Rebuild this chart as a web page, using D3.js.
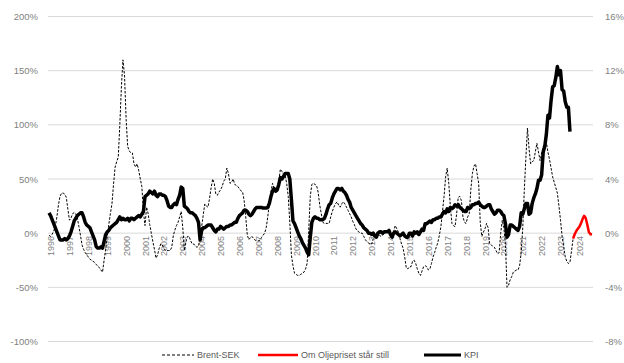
<!DOCTYPE html>
<html>
<head>
<meta charset="utf-8">
<script src="https://cdn.jsdelivr.net/npm/d3@7"></script>
<style>
  body { margin: 0; background: #fff; }
  text { font-family: "Liberation Sans", Arial, sans-serif; }
</style>
</head>
<body>
<svg id="chart"></svg>
<script>
// monthly values, Jan 1996 onwards
const years = d3.range(1996, 2025);

// KPI, yoy %, right axis (Jan 1996 - Aug 2023)
const kpi = [
  1.5, 1.3, 1.0, 0.7, 0.4, 0.1, -0.2, -0.5, -0.5, -0.5, -0.4, -0.5,
  -0.4, -0.2, 0.1, 0.5, 0.9, 1.1, 1.3, 1.4, 1.5, 1.5, 1.2, 0.8,
  0.6, 0.5, 0.4, 0.1, -0.2, -0.5, -1.0, -1.1, -1.1, -1.0, -1.1, -0.6,
  -0.1, 0.1, 0.2, 0.4, 0.5, 0.6, 0.7, 0.8, 1.0, 1.2, 1.0, 1.1,
  1.0, 1.0, 1.1, 0.9, 1.1, 1.1, 1.0, 1.1, 1.2, 1.3, 1.2, 1.4,
  1.6, 2.7, 2.8, 2.9, 3.1, 3.0, 2.9, 3.1, 2.8, 2.7, 2.9, 2.9,
  2.8, 2.8, 2.7, 2.4, 2.0, 1.9, 1.9, 2.1, 2.2, 2.1, 2.5, 2.8,
  3.4, 3.3, 2.0, 1.9, 1.8, 1.6, 1.5, 1.5, 1.4, 1.3, 1.1, 0.8,
  -0.5, 0.2, 0.4, 0.4, 0.5, 0.6, 0.6, 0.6, 0.4, 0.2, 0.1, 0.3,
  0.3, 0.5, 0.4, 0.3, 0.4, 0.5, 0.5, 0.6, 0.6, 0.7, 0.8, 0.8,
  1.1, 1.3, 1.4, 1.5, 1.7, 1.7, 1.6, 1.4, 1.3, 1.4, 1.6, 1.8,
  1.9, 1.9, 1.9, 1.9, 1.85, 1.85, 1.85, 1.9, 2.2, 2.7, 3.1, 3.3,
  3.1, 3.2, 3.6, 4.1, 4.0, 4.2, 4.4, 4.4, 4.4, 4.0, 2.5, 0.9,
  0.7, 0.4, 0.1, -0.2, -0.4, -0.7, -0.9, -1.1, -1.4, -1.6, -0.3, 0.8,
  1.1, 1.2, 1.1, 1.1, 1.0, 1.0, 1.0, 1.1, 1.4, 1.8, 2.1, 2.2,
  2.6, 2.9, 3.1, 3.3, 3.3, 3.2, 3.3, 3.1, 3.0, 2.8, 2.5, 2.3,
  1.9, 1.7, 1.5, 1.3, 1.1, 0.9, 0.7, 0.6, 0.4, 0.3, 0.2, 0.0,
  0.0, -0.1, 0.0, -0.2, -0.3, 0.0, 0.1, 0.1, 0.0, 0.1, 0.1, 0.1,
  0.2, -0.1, -0.3, 0.0, 0.1, 0.0, -0.1, -0.2, -0.1, 0.0, -0.2, -0.3,
  -0.3, 0.0, 0.0, -0.2, 0.1, 0.0, 0.1, -0.1, 0.1, 0.3, 0.2, 0.7,
  0.7, 0.8, 0.9, 0.8, 1.0, 1.0, 1.1, 1.1, 1.2, 1.2, 1.4, 1.6,
  1.5, 1.8, 1.6, 1.9, 1.8, 1.9, 2.1, 2.0, 2.1, 1.9, 1.8, 1.7,
  1.6, 1.6, 1.9, 1.8, 1.9, 2.1, 2.1, 2.2, 2.2, 2.3, 2.1, 2.0,
  1.9, 1.9, 2.0, 2.1, 2.1, 1.8, 1.6, 1.4, 1.5, 1.7, 1.7, 1.6,
  1.4, 1.3, 0.7, -0.3, -0.1, 0.6, 0.6, 0.5, 0.4, 0.3, 0.2, 0.5,
  1.5, 1.4, 1.8, 2.2, 2.2, 1.4, 1.5, 2.2, 2.6, 2.9, 3.3, 3.9,
  3.9, 4.3, 6.0, 6.4, 7.3, 8.7, 8.5, 9.8, 10.8, 10.9, 11.5, 12.3,
  11.7, 12.0, 10.6, 10.5, 9.7, 9.3, 9.3, 7.5
];

// Brent-SEK, yoy %, left axis (Jan 1996 - Oct 2023)
const brent = [
  -2, -3, -1, 2, 6, 15, 26, 34, 37, 37, 36, 33,
  22, 12, 14, 18, 19, 18, 14, 6, -2, -11, -15, -18,
  -20, -22, -24, -25, -26, -27, -29, -30, -32, -34, -36, -25,
  -15, -3, 8, 18, 27, 45, 61, 66, 70, 100, 135, 160,
  145, 105, 80, 76, 74, 74, 64, 61, 64, 58, 50, 43,
  20, 7, 24, 18, 8, 0, -8, -15, -23, -20, -14, -10,
  -11, -14, -16, -16, -16, -16, -13, -2, 3, 7, 10, 15,
  20, 5, -16, -8, -3, -3, -7, -10, -10, -12, -13, -12,
  -3, 6, 17, 27, 25, 24, 32, 42, 50, 46, 36, 35,
  38, 40, 43, 48, 50, 60, 55, 46, 47, 50, 45, 44,
  43, 41, 39, 38, 30, 15, -2, -6, -4, -3, -5, -6.5,
  -7, -7, -6.5, -4, -2, 0, 5, 15, 28, 38, 46, 42,
  40, 40, 48, 59, 57, 54, 54, 46, 34, 10, -20, -30,
  -37, -38, -39, -39, -38, -37, -36, -33, -28, 2, 34, 45,
  46, 45, 44, 38, 26, 18, 10, 9, 9, 9, 9, 15,
  20, 24, 27, 29, 26, 24, 27, 29, 27, 24, 21, 18,
  15, 11, 8, 4, 2, 1, 0, 0, -3, -6, -8, -9,
  -10, -10, -5, -1, 0, -1, -2, -3, -2, 0, 2, 3,
  1, -1, -3, 2, 7, 4, 1, -5, -10, -14, -22, -32,
  -33, -31, -31, -26, -25, -28, -33, -37, -39, -35, -31, -30,
  -31, -34, -33, -28, -22, -18, -13, -9, -2, 6, 20, 34,
  52, 60, 46, 25, 9, 7, 6, 18, 33, 34, 30, 15,
  10, 9, 15, 18, 40, 55, 62, 64, 55, 46, 10, -3,
  1, 4, 9, 5, -10, -11, -12, -13, -16, -19, -18, 0,
  12, 5, -10, -50, -48, -43, -40, -36, -35, -34, -34, -30,
  -18, 5, 40, 70, 97, 78, 64, 66, 67, 75, 83, 75,
  67, 74, 80, 82, 84, 75, 68, 60, 52, 47, 42, 37,
  25, 12, -3, -12, -22, -26, -28, -27, -16, -5
];

// "Om Oljepriset står still", left axis, starts Oct 2023
const oilFlatStart = 333;
const oilFlat = [-5, -1, 2, 4, 6, 9, 13, 16, 14, 8, 1, -1, -1];

const leftTicks = [-100, -50, 0, 50, 100, 150, 200];
const rightTicks = [-8, -4, 0, 4, 8, 12, 16];

const width = 624, height = 363;
const svg = d3.select("#chart").attr("width", width).attr("height", height);

const x = d3.scaleLinear().domain([0, 345]).range([49, 592]);
const yLeft = d3.scaleLinear().domain([-100, 200]).range([341.5, 16.5]);
const yRight = d3.scaleLinear().domain([-8, 16]).range([341.5, 16.5]);

// gridlines
svg.append("g")
  .selectAll("line")
  .data(leftTicks)
  .enter().append("line")
  .attr("x1", 48).attr("x2", 593)
  .attr("y1", d => yLeft(d)).attr("y2", d => yLeft(d))
  .attr("stroke", "#d9d9d9")
  .attr("stroke-width", 1);

// left axis
const gl = svg.append("g")
  .attr("transform", "translate(48,0)")
  .call(d3.axisLeft(yLeft).tickValues(leftTicks).tickSize(0).tickPadding(10).tickFormat(d => d + "%"));
gl.select(".domain").remove();
gl.selectAll("text").style("font-size", "9.5px").style("fill", "#7f7f7f");

// right axis
const gr = svg.append("g")
  .attr("transform", "translate(593,0)")
  .call(d3.axisRight(yRight).tickValues(rightTicks).tickSize(0).tickPadding(12).tickFormat(d => d + "%"));
gr.select(".domain").remove();
gr.selectAll("text").style("font-size", "9.5px").style("fill", "#7f7f7f");

// year labels, rotated
svg.append("g")
  .selectAll("text")
  .data(years)
  .enter().append("text")
  .attr("transform", d => "translate(" + (x((d - 1996) * 12) + 2) + ",236) rotate(-90)")
  .attr("text-anchor", "end")
  .attr("dy", "0.35em")
  .style("font-size", "9px")
  .style("fill", "#7f7f7f")
  .text(d => d);

// lines
const brentLine = d3.line()
  .x((d, i) => x(i))
  .y(d => yLeft(d));

svg.append("path")
  .datum(brent)
  .attr("d", brentLine)
  .attr("fill", "none")
  .attr("stroke", "#000")
  .attr("stroke-width", 1)
  .attr("stroke-dasharray", "2.5,1.5");

const kpiLine = d3.line()
  .x((d, i) => x(i))
  .y(d => yRight(d));

svg.append("path")
  .datum(kpi)
  .attr("d", kpiLine)
  .attr("fill", "none")
  .attr("stroke", "#000")
  .attr("stroke-width", 3.5)
  .attr("stroke-linejoin", "round");

const oilLine = d3.line()
  .x((d, i) => x(i + oilFlatStart))
  .y(d => yLeft(d));

svg.append("path")
  .datum(oilFlat)
  .attr("d", oilLine)
  .attr("fill", "none")
  .attr("stroke", "#ff0000")
  .attr("stroke-width", 2.5)
  .attr("stroke-linejoin", "round");

// legend
const legend = [
  { name: "Brent-SEK", x1: 162, x2: 194, color: "#000", w: 1, dash: "3,2" },
  { name: "Om Oljepriset står still", x1: 258, x2: 298, color: "#ff0000", w: 2.5, dash: null },
  { name: "KPI", x1: 424, x2: 461, color: "#000", w: 3, dash: null }
];
const lg = svg.append("g");
legend.forEach(function(d) {
  lg.append("line")
    .attr("x1", d.x1).attr("x2", d.x2)
    .attr("y1", 355).attr("y2", 355)
    .attr("stroke", d.color)
    .attr("stroke-width", d.w)
    .attr("stroke-dasharray", d.dash);
  lg.append("text")
    .attr("x", d.x2 + 3)
    .attr("y", 355)
    .attr("dy", "0.35em")
    .style("font-size", "9px")
    .style("fill", "#595959")
    .text(d.name);
});
</script>
</body>
</html>
